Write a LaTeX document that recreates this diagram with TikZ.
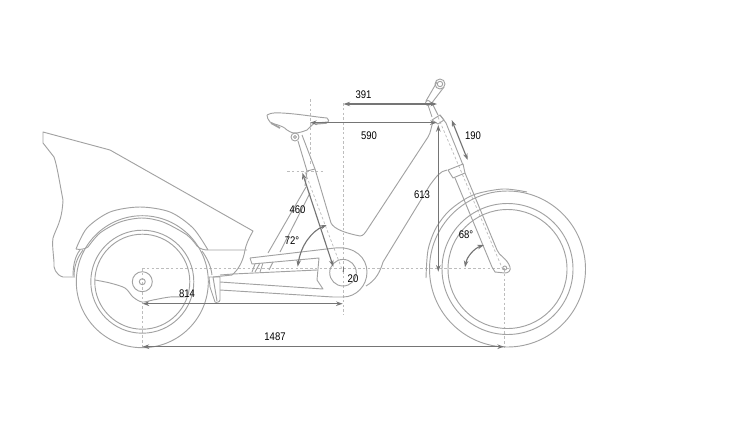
\documentclass[tikz,border=0pt]{standalone}
\usepackage{fontspec}
\setmainfont[FakeStretch=0.86]{Liberation Sans}
\usetikzlibrary{arrows.meta}
\definecolor{bikeline}{HTML}{A2A2A2}
\definecolor{guideline}{HTML}{BDBDBD}
\definecolor{dimline}{HTML}{757575}
\tikzset{
  bike/.style={draw=bikeline,line width=0.7pt,line join=round},
  guide/.style={draw=guideline,line width=0.55pt,dash pattern=on 2pt off 1.6pt},
  dimarrow/.style={draw=dimline,line width=0.85pt,{Stealth[length=5pt,width=3.4pt]}-{Stealth[length=5pt,width=3.4pt]}},
  dimlabel/.style={inner sep=0pt,text=black,font=\fontsize{8.3pt}{10pt}\selectfont},
}
\begin{document}
\begin{tikzpicture}[x=0.75pt,y=-0.75pt]
\useasboundingbox (0,0) rectangle (730,425);
% guide lines
\draw[guide] (142,268) -- (510,268);
\draw[guide] (142.5,268) -- (142.5,348);
\draw[guide] (343.5,103) -- (343.5,315);
\draw[guide] (310.5,99) -- (310.5,165);
\draw[guide] (287,171) -- (323,171);
\draw[guide] (305,172) -- (343,272);
\draw[guide] (504.5,269) -- (504.5,348);
\draw[guide] (438,117) -- (503,270);
% rear wheel
\draw[bike] (142.3,281.7) circle (66);
\draw[bike] (142.3,281.7) circle (51.5);
\draw[bike] (142.3,281.7) circle (47.5);
\draw[bike] (142.3,281.7) circle (10);
\draw[bike] (142.3,281.7) circle (3);
\draw[bike] plot[smooth] coordinates {(95,280) (110,283) (125,288) (133,297) (142,302) (153,300) (170,297) (186,297)};
% cargo box
\draw[bike] (75,277) -- (63,277) .. controls (56,275) and (53,268) .. (54,262)
  .. controls (53,250) and (52,243) .. (53,238)
  .. controls (56,228) and (62,222) .. (63,200)
  .. controls (60,185) and (57,165) .. (54,157) -- (43,143) -- (43,132)
  -- (110,150) -- (253,231)
  .. controls (248,240) and (246,245) .. (245,250)
  .. controls (243,262) and (238,270) .. (232,275) -- (213,277);
% rear mudguard
\draw[bike] plot[smooth] coordinates {(76,249) (87,228) (110,212) (140,207) (170,212) (193,228) (208,250)};
\draw[bike] plot[smooth] coordinates {(88,247) (100,233) (120,222) (142,218) (163,222) (187,235) (197,246)};
\draw[bike] (76,249) .. controls (80,250) and (85,249) .. (88,247);
\draw[bike] (197,246) .. controls (200,249) and (204,250) .. (208,250) -- (247,250);
\draw[bike] (83,250) .. controls (77,258) and (74,266) .. (74,277);
\draw[bike] (80,250) .. controls (75,256) and (73,266) .. (73,276);
\draw[bike] (202,251) .. controls (207,258) and (211,266) .. (212,275);
% pedestal
\draw[bike] (209,277) -- (220,277) -- (220,300) .. controls (220,302) and (216,303) .. (215,302)
  -- (210,287) -- cycle;
\draw[bike] (213,277) -- (217,301);
% footboard and swing arm
\draw[bike] (250,258) -- (335,248);
\draw[bike] (250,258) -- (252,264) -- (319,258) -- (317,280) -- (323,289) -- (220,282);
\draw[bike] (220,275) -- (233,274) -- (317,270);
\draw[bike] (220,290) -- (333,297) -- (343,297);
% stays
\draw[bike] (268,253) -- (306,187);
\draw[bike] (280,252) -- (310,193);
\draw[bike] (252,272) -- (255,264);
\draw[bike] (255,272) -- (260,263);
\draw[bike] (260,272) -- (263,263);
\draw[bike] (269,270) -- (273,262);
% motor
\draw[bike] (343,272.7) circle (13.3);
\draw[bike] (335,248) .. controls (355,246) and (367,258) .. (367,272)
  .. controls (367,286) and (356,297) .. (343,297);
% frame
\draw[bike] (315,169) -- (331,223) .. controls (334,229) and (345,233) .. (360,236)
  .. controls (363,236) and (365,233) .. (367,230) -- (428,137)
  .. controls (431,132) and (431,127) .. (433,122);
\draw[bike] (447,170) .. controls (440,171) and (436,177) .. (430,185) -- (383,262)
  .. controls (380,272) and (376,280) .. (366,286);
% seat post
\draw[bike] (298,141) -- (307,171) -- (305,186);
\draw[bike] (302,135) -- (315,169);
\draw[bike] (307,171) -- (315,169);
% saddle
\draw[bike] (267,115) .. controls (272,112) and (278,113) .. (282,113)
  .. controls (300,114) and (315,117) .. (327,118) .. controls (329,120) and (329,121) .. (328,122)
  -- (315,123) .. controls (311,125) and (310,128) .. (307,130)
  .. controls (302,132) and (298,133) .. (295,133) .. controls (291,133) and (289,131) .. (287,130)
  .. controls (284,127) and (281,126) .. (278,125) .. controls (274,124) and (272,123) .. (270,122)
  .. controls (268,120) and (267,117) .. (267,115);
\draw[bikeline,line width=1.3pt] (271,123) -- (280,128);
\draw[bikeline,line width=1pt] (316,124) -- (327,123);
\draw[bike] (295,137) circle (4);
\draw[bike] (295,137) circle (1.5);
% handlebar stem
\draw[bike] (426,101) -- (437,82);
\draw[bike] (431,104) -- (444,87);
\draw[bike] (440,84) circle (5);
\draw[bike] (440,84) circle (2.7);
\draw[bike] (428,103) circle (2.5);
\draw[bike] (428,105) -- (432,117);
\draw[bike] (433,105) -- (438,115);
\draw[bike] (432,120) -- (440,115) -- (444,120) -- (438,124) -- cycle;
% fork
\draw[bike] (440,115) -- (446,123) -- (463,165);
\draw[bike] (448,170) -- (463,164) -- (465,173) -- (453,178) -- cycle;
\draw[bike] (455,178) -- (492,267);
\draw[bike] (465,173) -- (497,250) .. controls (499,256) and (507,258) .. (510,267)
  .. controls (511,271) and (508,273) .. (505,273) -- (495,272) -- (492,267);
\draw[bike] (504.7,268) circle (2);
% front wheel
\draw[bike] (507.5,269) circle (78);
\draw[bike] (507.5,269) circle (65.5);
\draw[bike] (507.5,269) circle (59.5);
\draw[bike] plot[smooth] coordinates {(426,278) (428,250) (436,228) (450,210) (473,195) (503,189) (527,192)};
% end points of the dimensions
\coordinate (a391) at (343.5,104);
\coordinate (b391) at (437,104);
\coordinate (a590) at (310,122.7);
\coordinate (b590) at (436.7,122.7);
\coordinate (a190) at (451.7,120);
\coordinate (b190) at (467.7,160);
\coordinate (a613) at (438.3,125);
\coordinate (b613) at (438.3,271.7);
\coordinate (a460) at (302.3,172.7);
\coordinate (b460) at (333.3,266.7);
\coordinate (a72) at (326.7,225);
\coordinate (b72) at (297.7,266.7);
\coordinate (a68) at (484,245);
\coordinate (b68) at (465,267.3);
\coordinate (a20) at (343.3,267);
\coordinate (b20) at (343.3,272);
\coordinate (a814) at (142.5,303.7);
\coordinate (b814) at (342.7,303.7);
\coordinate (a1487) at (142.5,346.7);
\coordinate (b1487) at (504,346.7);
% dimensions
\draw[dimarrow] (a391) -- (b391);
\draw[dimarrow] (a590) -- (b590);
\draw[dimarrow] (a190) -- (b190);
\draw[dimarrow] (a613) -- (b613);
\draw[dimarrow] (a460) -- (b460);
\draw[dimarrow] (a72) .. controls (312,231) and (301,245) .. (b72);
\draw[dimarrow] (a68) .. controls (475,248) and (467,256) .. (b68);
\draw[draw=dimline,line width=0.5pt] (a20) -- (b20);
\draw[dimarrow] (a814) -- (b814);
\draw[dimarrow] (a1487) -- (b1487);
% labels
\node[dimlabel] (l391) at (363.5,94.5) {391};
\node[dimlabel] (l590) at (369,136) {590};
\node[dimlabel] (l190) at (473,136) {190};
\node[dimlabel] (l613) at (422,194.5) {613};
\node[dimlabel] (l460) at (297.5,209.5) {460};
\node[dimlabel] (l72) at (292,240.5) {72°};
\node[dimlabel] (l68) at (466,234.5) {68°};
\node[dimlabel] (l20) at (353,278.5) {20};
\node[dimlabel] (l814) at (187,293.5) {814};
\node[dimlabel] (l1487) at (275,336.5) {1487};
\end{tikzpicture}
\end{document}
